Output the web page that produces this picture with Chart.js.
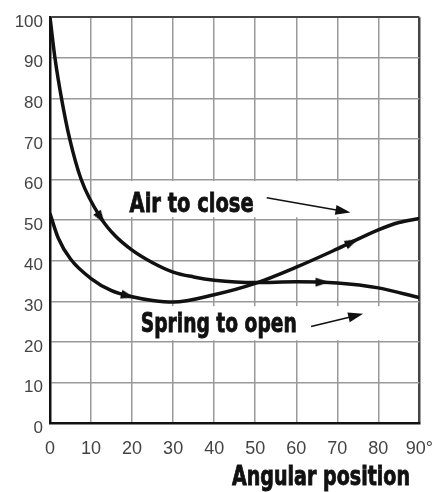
<!DOCTYPE html>
<html>
<head>
<meta charset="utf-8">
<script src="https://cdn.jsdelivr.net/npm/chart.js@4.4.1/dist/chart.umd.min.js"></script>
<style>
body{margin:0;background:#fff;}
</style>
</head>
<body>
<canvas id="torqueChart" width="448" height="492"></canvas>
<script>

// CURVES

const airAngle = [0, 2, 5, 10, 15, 20, 25, 30, 40, 50, 60, 70, 80, 85, 90];
const airTorque = [51.6, 45.6, 40.4, 35.6, 32.6, 31.1, 30.2, 29.8, 31.6, 34.4, 38.4, 42.9, 47.6, 49.4, 50.4];

const springAngle = [0, 1.2, 2.8, 4.8, 7.6, 12.4, 16, 20, 25, 30, 35, 40, 50, 60, 70, 80, 90];
const springTorque = [100, 90, 80, 70, 60, 50.5, 46, 42.6, 39.5, 37.2, 36, 35.2, 34.6, 34.8, 34.5, 33.3, 30.9];

// ARROWHEADS ON THE CURVES

const airArrowAngle = [19, 73.6];
const airArrowTorque = [31.3, 44.6];
const airArrowDir = [105, 64];

const springArrowAngle = [12.4, 66.4];
const springArrowTorque = [50.5, 34.7];
const springArrowDir = [146, 90];

// TICKS

const xTicks = [0, 10, 20, 30, 40, 50, 60, 70, 80, 90];
const xTickLabels = ["0", "10", "20", "30", "40", "50", "60", "70", "80", "90°"];
const yTicks = [0, 10, 20, 30, 40, 50, 60, 70, 80, 90, 100];

function toPoints(xs, ys){
return xs.map((x, i) => ({x: x, y: ys[i]}));
}

function makeArrowHead(){
const c = document.createElement("canvas");
c.width = 16;
c.height = 16;
const g = c.getContext("2d");
g.fillStyle = "#111";
g.beginPath();
g.moveTo(8, 1);
g.lineTo(12.5, 15);
g.lineTo(3.5, 15);
g.closePath();
g.fill();
return c;
}

const arrowHead = makeArrowHead();

// condensed heavy text: squeeze a bold face to the width seen in the picture
function drawSqueezed(ctx, text, x, y, width, size){
ctx.save();
ctx.font = "bold " + size + "px 'DejaVu Sans', sans-serif";
ctx.textAlign = "left";
ctx.textBaseline = "alphabetic";
const w = ctx.measureText(text).width;
ctx.translate(x, y);
ctx.scale(width / w, 1);
ctx.fillStyle = "#111";
ctx.strokeStyle = "#111";
ctx.lineWidth = 0.9;
ctx.fillText(text, 0, 0);
ctx.strokeText(text, 0, 0);
ctx.restore();
}

// label boxes, in data units
const notes = [
{text: "Air to close", x: 19.4, y: 51.9, width: 124, box: [18.2, 59.6, 75.6, 50.7], from: [52.8, 55.5], to: [73.2, 51.9]},
{text: "Spring to open", x: 22.1, y: 22.4, width: 156, box: [20.9, 28.8, 80.4, 20.4], from: [63.6, 23.8], to: [76.3, 26.9]}
];

const notesPlugin = {
id: "notes",
beforeDatasetsDraw(chart){
const ctx = chart.ctx;
const xs = chart.scales.x;
const ys = chart.scales.y;
ctx.save();
notes.forEach(n => {
const bx1 = xs.getPixelForValue(n.box[0]);
const by1 = ys.getPixelForValue(n.box[1]);
const bx2 = xs.getPixelForValue(n.box[2]);
const by2 = ys.getPixelForValue(n.box[3]);
ctx.fillStyle = "#fff";
ctx.fillRect(bx1, by1, bx2 - bx1, by2 - by1);

drawSqueezed(ctx, n.text, xs.getPixelForValue(n.x), ys.getPixelForValue(n.y), n.width, 27);

const x1 = xs.getPixelForValue(n.from[0]);
const y1 = ys.getPixelForValue(n.from[1]);
const x2 = xs.getPixelForValue(n.to[0]);
const y2 = ys.getPixelForValue(n.to[1]);
const a = Math.atan2(y2 - y1, x2 - x1);
ctx.fillStyle = "#111";
ctx.strokeStyle = "#111";
ctx.lineWidth = 1.6;
ctx.beginPath();
ctx.moveTo(x1, y1);
ctx.lineTo(x2 - 10 * Math.cos(a), y2 - 10 * Math.sin(a));
ctx.stroke();
ctx.beginPath();
ctx.moveTo(x2, y2);
ctx.lineTo(x2 - 15 * Math.cos(a) + 5 * Math.sin(a), y2 - 15 * Math.sin(a) - 5 * Math.cos(a));
ctx.lineTo(x2 - 15 * Math.cos(a) - 5 * Math.sin(a), y2 - 15 * Math.sin(a) + 5 * Math.cos(a));
ctx.closePath();
ctx.fill();
});
ctx.restore();
},
afterDraw(chart){
drawSqueezed(chart.ctx, "Angular position", 232, 485, 178, 26);
}
};

const lineStyle = {
borderColor: "#111",
borderWidth: 3.5,
pointRadius: 0,
fill: false,
cubicInterpolationMode: "monotone"
};

const arrowStyle = {
showLine: false,
pointStyle: arrowHead,
pointRadius: 8
};

new Chart(document.getElementById("torqueChart"), {
type: "line",
data: {
datasets: [
Object.assign({label: "Air to close", data: toPoints(airAngle, airTorque)}, lineStyle),
Object.assign({label: "Spring to open", data: toPoints(springAngle, springTorque)}, lineStyle),
Object.assign({label: "air arrows", data: toPoints(airArrowAngle, airArrowTorque),
rotation: c => airArrowDir[c.dataIndex]}, arrowStyle),
Object.assign({label: "spring arrows", data: toPoints(springArrowAngle, springArrowTorque),
rotation: c => springArrowDir[c.dataIndex]}, arrowStyle)
]
},
options: {
responsive: false,
animation: false,
events: [],
layout: {padding: {top: 7, right: 23, left: 0, bottom: 0}},
plugins: {
legend: {display: false},
tooltip: {enabled: false}
},
scales: {
x: {
type: "linear",
min: 0,
max: 90,
afterBuildTicks: s => { s.ticks = xTicks.map(v => ({value: v})); },
afterFit: s => { s.height = 69; },
ticks: {
padding: 15,
color: "#444",
font: {family: "'Liberation Sans', Arial, sans-serif", size: 18},
callback: v => xTickLabels[xTicks.indexOf(v)]
},
grid: {
drawTicks: false,
color: c => c.tick && c.tick.value === 90 ? "#444" : "#999",
lineWidth: c => c.tick && c.tick.value === 90 ? 2.5 : 1.5
},
border: {color: "#111", width: 2.5}
},
y: {
type: "linear",
min: 0,
max: 100,
afterBuildTicks: s => { s.ticks = yTicks.map(v => ({value: v})); },
afterFit: s => { s.width = 50; },
ticks: {
padding: 7,
labelOffset: 5,
color: "#444",
font: {family: "'Liberation Sans', Arial, sans-serif", size: 17}
},
grid: {
drawTicks: false,
color: c => c.tick && c.tick.value === 100 ? "#444" : "#999",
lineWidth: c => c.tick && c.tick.value === 100 ? 2 : 1.5
},
border: {color: "#111", width: 2.5}
}
}
},
plugins: [notesPlugin]
});

</script>
</body>
</html>
